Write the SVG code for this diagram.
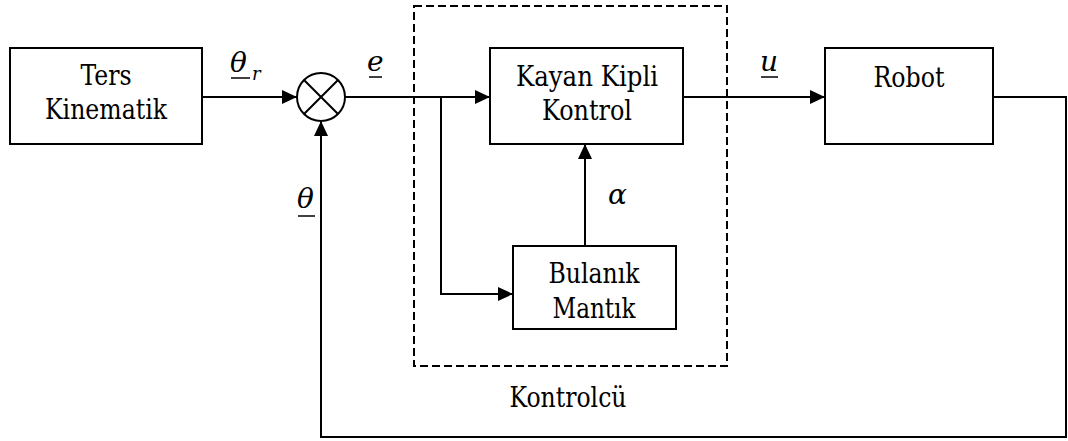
<svg xmlns="http://www.w3.org/2000/svg" width="1068" height="441" viewBox="0 0 1068 441">
  <style>
    .box { fill: #fff; stroke: #000; stroke-width: 2; }
    .wire { fill: none; stroke: #000; stroke-width: 2; }
    .lbl { font-family: 'DejaVu Serif Condensed', 'DejaVu Serif', serif; font-stretch: condensed; font-size: 27px; fill: #000; text-anchor: middle; }
    .math { font-family: 'DejaVu Serif', serif; font-size: 28px; font-style: italic; fill: #000; }
    .ul { stroke: #000; stroke-width: 1.5; }
  </style>
  <defs>
    <marker id="arrow" markerUnits="userSpaceOnUse" markerWidth="16" markerHeight="14" refX="15" refY="7" orient="auto">
      <path d="M0,0 L15,7 L0,14 Z" fill="#000"/>
    </marker>
  </defs>

  <!-- controller boundary -->
  <rect x="414" y="6" width="313" height="360" fill="none" stroke="#000" stroke-width="2" stroke-dasharray="8 4"/>
  <text class="lbl" x="568" y="407" textLength="117" lengthAdjust="spacingAndGlyphs">Kontrolcü</text>

  <!-- connectors -->
  <g id="connectors">
    <path class="wire" d="M202,97 H297" marker-end="url(#arrow)"/>
    <path class="wire" d="M345,97 H490" marker-end="url(#arrow)"/>
    <path class="wire" d="M441,97 V294 H513" marker-end="url(#arrow)"/>
    <path class="wire" d="M585,246 V144" marker-end="url(#arrow)"/>
    <path class="wire" d="M683,97 H825" marker-end="url(#arrow)"/>
    <path class="wire" d="M993,97 H1066 V437 H321 V121" marker-end="url(#arrow)"/>
  </g>

  <!-- signal labels -->
  <g id="labels">
    <text class="math" x="230" y="72">θ</text>
    <line class="ul" x1="231" y1="78" x2="250" y2="78"/>
    <text class="math" x="252" y="80" style="font-size:18px">r</text>
    <text class="math" x="367" y="71">e</text>
    <line class="ul" x1="369" y1="77" x2="382" y2="77"/>
    <text class="math" x="760" y="71">u</text>
    <line class="ul" x1="761" y1="77" x2="778" y2="77"/>
    <text class="math" x="608" y="204">α</text>
    <text class="math" x="297" y="208">θ</text>
    <line class="ul" x1="298" y1="216" x2="315" y2="216"/>
  </g>

  <g id="ters-kinematik">
    <rect class="box" x="10" y="48" width="192" height="96"/>
    <text class="lbl" x="106" y="85" textLength="51" lengthAdjust="spacingAndGlyphs">Ters</text>
    <text class="lbl" x="106" y="119" textLength="122" lengthAdjust="spacingAndGlyphs">Kinematik</text>
  </g>

  <g id="sum">
    <circle cx="321" cy="97" r="24" fill="#fff" stroke="#000" stroke-width="2"/>
    <path class="wire" d="M304,80 L338,114 M338,80 L304,114"/>
  </g>

  <g id="kayan-kipli">
    <rect class="box" x="490" y="48" width="193" height="96"/>
    <text class="lbl" x="587" y="86" textLength="142" lengthAdjust="spacingAndGlyphs">Kayan Kipli</text>
    <text class="lbl" x="587" y="120" textLength="90" lengthAdjust="spacingAndGlyphs">Kontrol</text>
  </g>

  <g id="bulanik">
    <rect class="box" x="513" y="246" width="163" height="83"/>
    <text class="lbl" x="594" y="283" textLength="91" lengthAdjust="spacingAndGlyphs">Bulanık</text>
    <text class="lbl" x="594" y="318" textLength="83" lengthAdjust="spacingAndGlyphs">Mantık</text>
  </g>

  <g id="robot">
    <rect class="box" x="825" y="48" width="168" height="96"/>
    <text class="lbl" x="909" y="87" textLength="71" lengthAdjust="spacingAndGlyphs">Robot</text>
  </g>
</svg>
